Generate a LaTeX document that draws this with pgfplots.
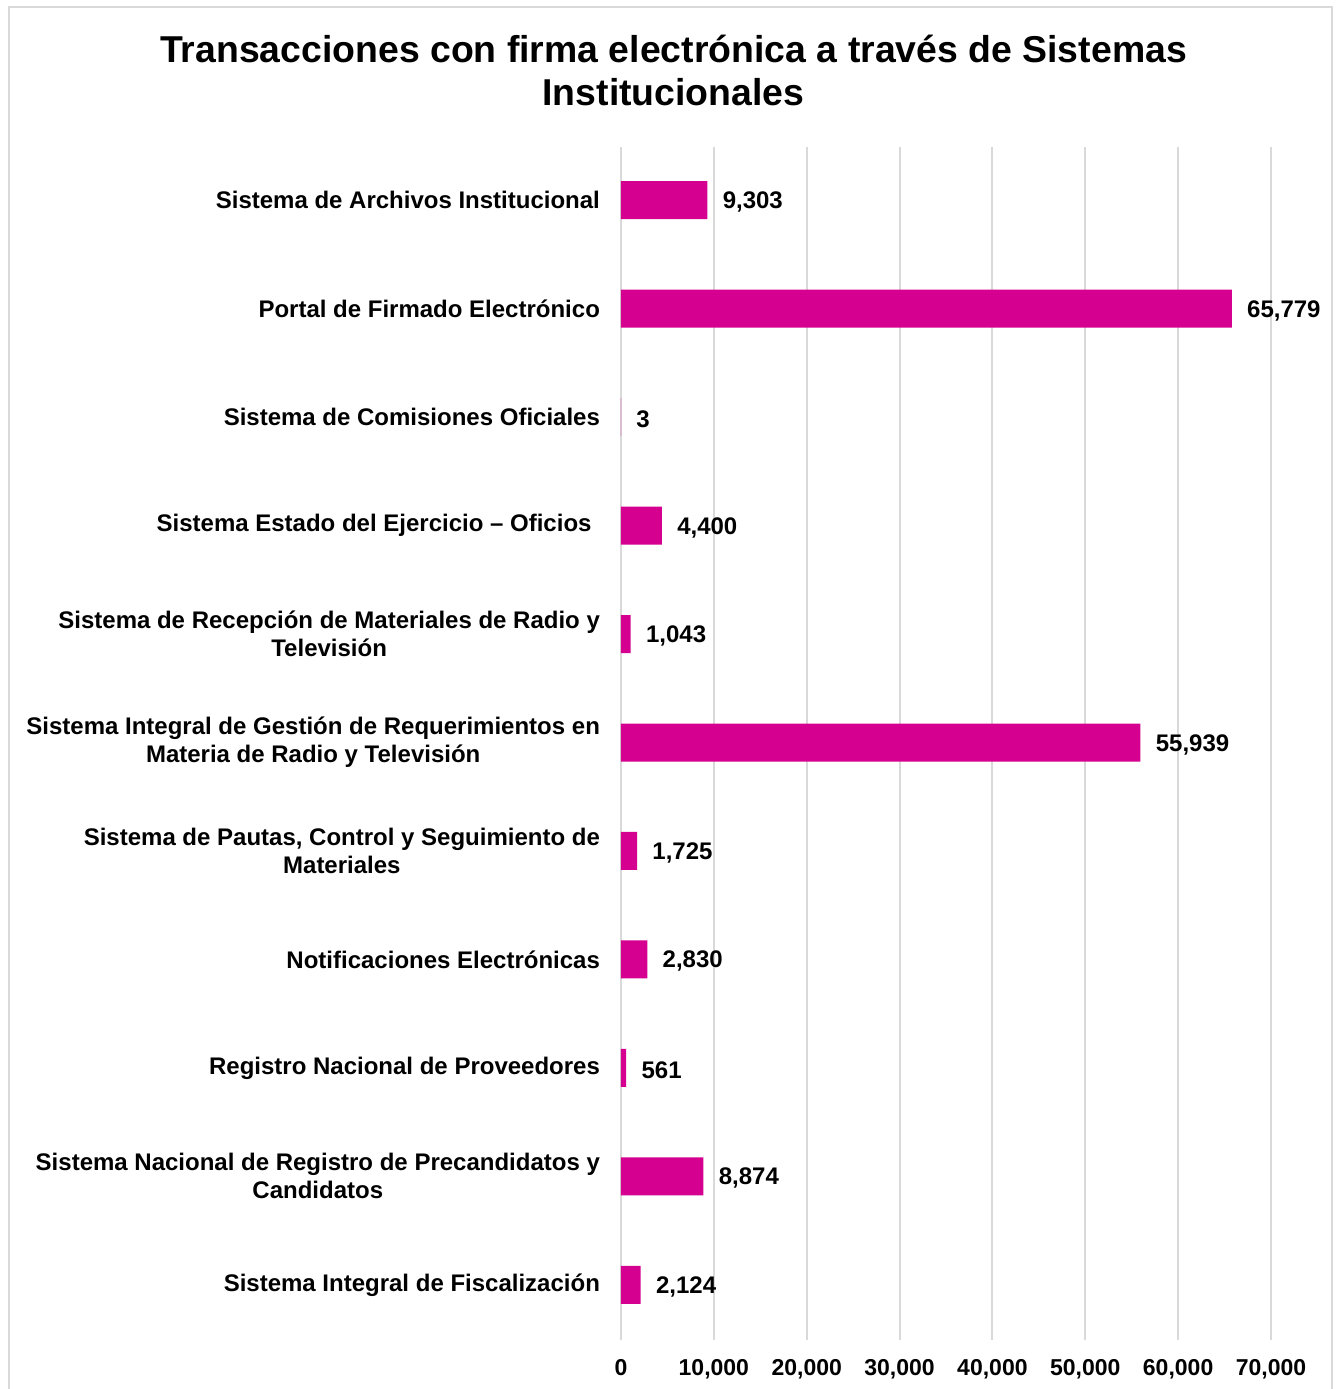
\documentclass[border=0pt]{standalone}
\usepackage{pgfplots}
\pgfplotsset{compat=1.18}
\usepackage{fontspec}
\setmainfont{Liberation Sans}
\definecolor{barmag}{RGB}{213,0,143}
\definecolor{gridgray}{RGB}{217,217,217}
\begin{document}
\begin{tikzpicture}
\path[use as bounding box] (0,0) rectangle (668.5pt,694.5pt);
\draw[gridgray, line width=1pt] (4.5pt,0) -- (4.5pt,691pt) -- (666pt,691pt) -- (666pt,0);
\node[font=\fontsize{18.7}{21.5}\selectfont\bfseries, align=center, anchor=center] at (336.75pt,659.5pt)
  {Transacciones con firma electrónica a través de Sistemas\\Institucionales};
\begin{axis}[
  at={(310.5pt,24.5pt)}, anchor=south west,
  scale only axis, width=325pt, height=596.5pt,
  xbar, bar width=19pt,
  xmin=0, xmax=70000, ymin=-0.5, ymax=10.5,
  y dir=reverse,
  axis line style={draw=none},
  xmajorgrids, major grid style={gridgray, line width=1pt},
  xtick={0,10000,...,70000},
  ytick={0,...,10},
  yticklabels={
    {Sistema de Archivos Institucional},
    {Portal de Firmado Electrónico},
    {Sistema de Comisiones Oficiales},
    {Sistema Estado del Ejercicio – Oficios\hspace*{0.35em}},
    {Sistema de Recepción de Materiales de Radio y\\Televisión},
    {Sistema Integral de Gestión de Requerimientos en\\Materia de Radio y Televisión},
    {Sistema de Pautas, Control y Seguimiento de\\Materiales},
    {Notificaciones Electrónicas},
    {Registro Nacional de Proveedores},
    {Sistema Nacional de Registro de Precandidatos y\\Candidatos},
    {Sistema Integral de Fiscalización}},
  yticklabel style={align=center, font=\fontsize{12}{14}\selectfont\bfseries},
  xticklabel style={font=\fontsize{11.5}{14}\selectfont\bfseries, yshift=-6pt},
  /pgf/number format/assume math mode=true,
  scaled x ticks=false,
  x tick label style={/pgf/number format/.cd, fixed, precision=0, 1000 sep={,}},
  major tick length=0pt,
  yticklabel style={xshift=-7pt, yshift=0.5pt},
  nodes near coords,
  nodes near coords style={anchor=west, inner sep=0pt, xshift=7.5pt, yshift=-1pt,
    font=\fontsize{12}{14}\selectfont\bfseries,
    /pgf/number format/.cd, fixed, precision=0, 1000 sep={,}, assume math mode=true},
  clip=false,
]
\addplot[fill=barmag, draw=none, bar shift=0.5pt] coordinates {
  (9303,0) (65779,1) (3,2) (4400,3) (1043,4) (55939,5) (1725,6) (2830,7) (561,8) (8874,9) (2124,10)
};
\end{axis}
\end{tikzpicture}
\end{document}
